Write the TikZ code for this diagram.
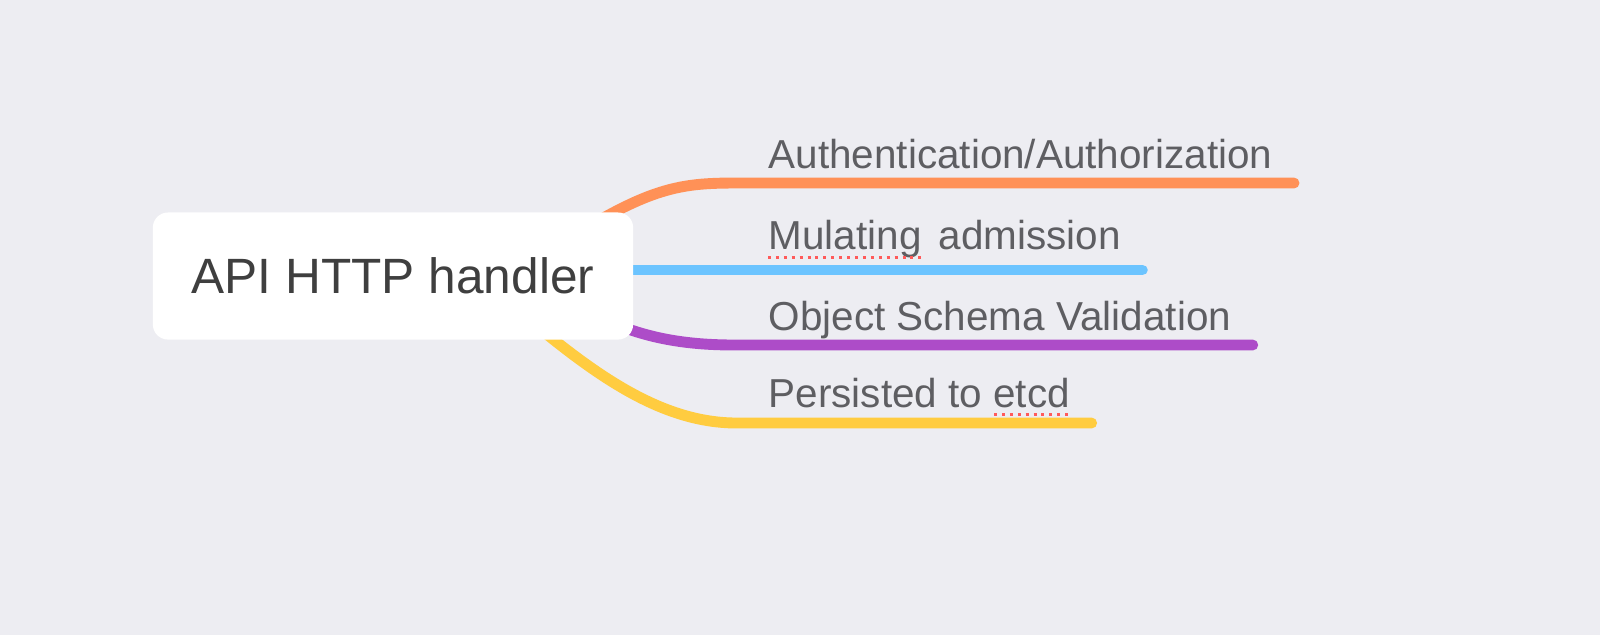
\documentclass[tikz,border=0pt]{standalone}
\usepackage{fontspec}
\setmainfont{Liberation Sans}
\usetikzlibrary{backgrounds,calc}
\definecolor{paper}{HTML}{EDEDF2}
\definecolor{topictext}{HTML}{3F3F3F}
\definecolor{leaftext}{HTML}{5E5E62}
\definecolor{authcol}{HTML}{FF9157}
\definecolor{mutcol}{HTML}{6CC4FF}
\definecolor{schemacol}{HTML}{AD4CC8}
\definecolor{etcdcol}{HTML}{FFCC40}
\definecolor{spellred}{HTML}{FF5A5A}
\pgfdeclarelayer{edges}
\pgfsetlayers{background,edges,main}

\begin{document}
\begin{tikzpicture}[x=0.01cm, y=-0.01cm,
    topic/.style={rectangle, fill=white, rounded corners=4.3pt, minimum width=4.8cm, minimum height=1.27cm, inner sep=0pt, text=topictext, font=\fontsize{14.1}{17}\selectfont},
    leaf/.style={inner sep=0pt, anchor=base west, text=leaftext, font=\fontsize{11.5}{14}\selectfont},
    branch/.style={line width=3.1pt, line cap=round},
    spellmark/.style={spellred, line width=0.85pt, dash pattern=on 0.85pt off 1.4pt}]
    \begin{pgfonlayer}{background}
        \fill[paper] (0,0) rectangle (1600,635);
    \end{pgfonlayer}

    \node[topic] (api) at (393,276) {API HTTP handler};
    \coordinate (hub) at (520,270);
    \coordinate (hub2) at (470,270);

    \node[leaf] (auth) at (768,168) {Authentication/Authorization};
    \node[leaf] (mut) at (768,249) {Mulating\hspace{0.17cm}admission};
    \node[leaf] (schema) at (768,330) {Object Schema Validation};
    \node[leaf] (etcd) at (768,407) {Persisted to etcd};

    % branches behind the topic box
    \begin{pgfonlayer}{edges}
        \draw[branch, authcol] (hub) .. controls (640,190) and (670,183) .. ($(auth.base west)+(-33,15)$) -- ($(auth.base east)+(21,15)$);
        \draw[branch, mutcol] (hub) -- ($(mut.base east)+(21,21)$);
        \draw[branch, schemacol] (hub) .. controls (600,325) and (650,345) .. ($(schema.base west)+(-33,15)$) -- ($(schema.base east)+(21,15)$);
        \draw[branch, etcdcol] (hub2) .. controls (560,345) and (640,422) .. ($(etcd.base west)+(-33,16)$) -- ($(etcd.base east)+(21,16)$);
    \end{pgfonlayer}

    \draw[spellmark] ($(mut.base west)+(0,8)$) -- ($(mut.base west)+(155,8)$);
    \draw[spellmark] ($(etcd.base west)+(226,7)$) -- ($(etcd.base west)+(304,7)$);
\end{tikzpicture}
\end{document}
